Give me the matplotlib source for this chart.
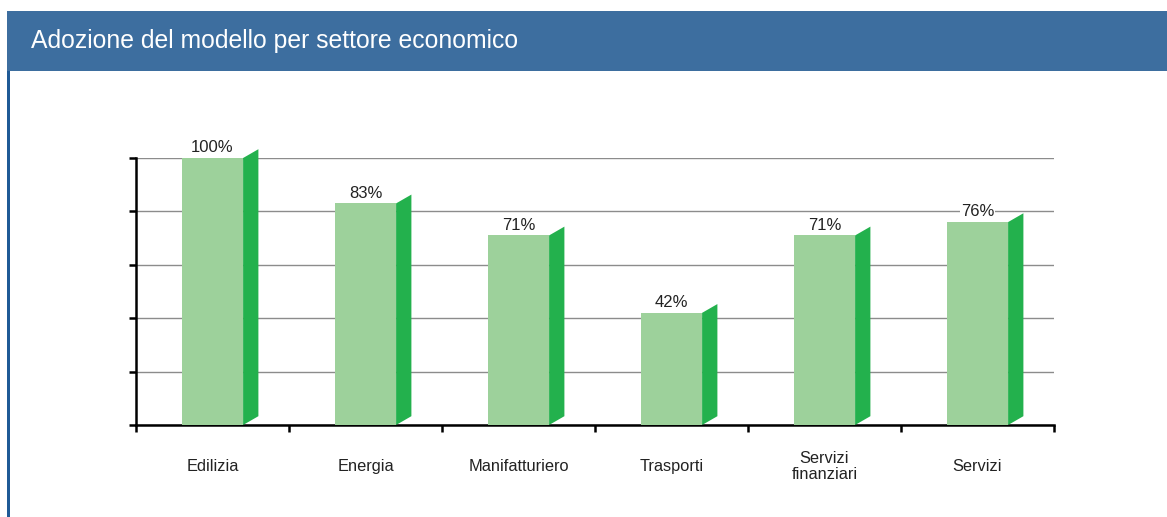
import matplotlib
matplotlib.use("Agg")
import matplotlib.pyplot as plt
from matplotlib.patches import Polygon, Rectangle

plt.rcParams['font.family'] = ['Liberation Sans', 'DejaVu Sans']

categories = ["Edilizia", "Energia", "Manifatturiero", "Trasporti",
              "Servizi\nfinanziari", "Servizi"]
values = [100, 83, 71, 42, 71, 76]
title = "Adozione del modello per settore economico"

FRONT = "#9dd19b"
SIDE = "#23b14d"
HEADER = "#3d6e9f"
EDGE = "#1f5a96"

fig = plt.figure(figsize=(11.67, 5.17), dpi=100)

# header band and left frame line
fig.patches.append(Rectangle((7 / 1167, 1 - 71 / 517), 1 - 7 / 1167, 60 / 517,
                             transform=fig.transFigure, facecolor=HEADER,
                             edgecolor="none", zorder=0))
fig.patches.append(Rectangle((7 / 1167, 0), 3 / 1167, 1 - 71 / 517,
                             transform=fig.transFigure, facecolor=EDGE,
                             edgecolor="none", zorder=0))
fig.text(31 / 1167, 1 - 41 / 517, title, color="white", fontsize=17.8,
         va="center", ha="left")

ax = fig.add_axes([136 / 1167, 1 - 425 / 517, (1054 - 136) / 1167, (425 - 158) / 517])
ax.set_xlim(0, len(categories))
ax.set_ylim(0, 100)

front_w = 0.40
side_w = 0.10
lift = 3.3

for i, v in enumerate(values):
    c = i + 0.5
    x0 = c - front_w / 2
    x1 = c + front_w / 2
    ax.add_patch(Rectangle((x0, 0), front_w, v, facecolor=FRONT,
                           edgecolor="none", zorder=3, clip_on=False))
    ax.add_patch(Polygon([(x1, 0), (x1 + side_w, lift), (x1 + side_w, v + lift),
                          (x1, v)], closed=True, facecolor=SIDE,
                         edgecolor="none", zorder=3, clip_on=False))
    ax.annotate(f"{v}%", (c, v), xytext=(0, 2), textcoords="offset points",
                ha="center", va="bottom", fontsize=12, color="#222222",
                zorder=4, annotation_clip=False,
                bbox=dict(boxstyle="square,pad=0.05", facecolor="white",
                          edgecolor="none"))

ax.set_yticks([0, 20, 40, 60, 80, 100])
ax.set_yticklabels([])
ax.set_xticks(range(len(categories) + 1))
ax.set_xticklabels([])
ax.yaxis.grid(True, color="#8c8c8c", linewidth=1.0, zorder=1)
ax.set_axisbelow(True)

for s in ["top", "right"]:
    ax.spines[s].set_visible(False)
for s in ["left", "bottom"]:
    ax.spines[s].set_linewidth(1.8)
    ax.spines[s].set_color("black")
ax.tick_params(axis="y", direction="out", length=5, width=1.8)
ax.tick_params(axis="x", direction="out", length=5, width=1.8)

for i, name in enumerate(categories):
    ax.text(i + 0.5, -15.5, name, ha="center", va="center", fontsize=11.8,
            color="#222222", transform=ax.transData, linespacing=1.1)

fig.savefig("out.png", dpi=100)
